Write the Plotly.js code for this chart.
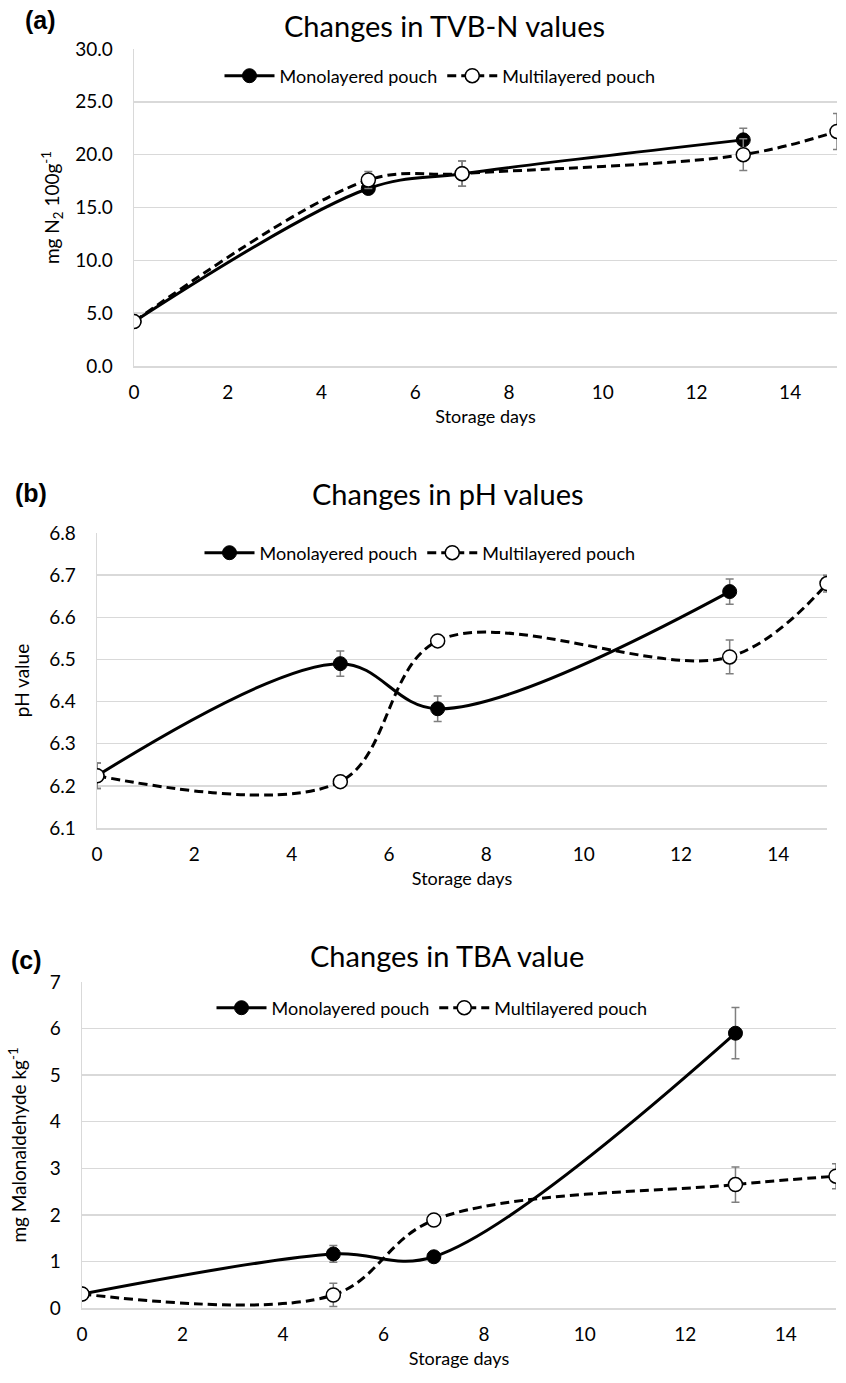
<!DOCTYPE html>
<html>
<head>
<meta charset="utf-8">
<script src="https://cdn.plot.ly/plotly-3.0.1.min.js"></script>
<style>html,body{margin:0;padding:0;background:#fff;}#chart{width:846px;height:1383px;}</style>
</head>
<body>
<div id="chart"></div>
<script>
// ---- data ----
const monoDays = [0, 5, 7, 13];
const multiDays = [0, 5, 7, 13, 15];
const xTickVals = [0, 2, 4, 6, 8, 10, 12, 14];

const tvbnMono = [4.2, 16.8, 18.2, 21.4];
const tvbnMonoErr = [0.2, 0.4, 1.2, 1.1];
const tvbnMulti = [4.2, 17.6, 18.2, 20.0, 22.2];
const tvbnMultiErr = [0.2, 0.8, 1.2, 1.5, 1.7];

const phMono = [6.224, 6.49, 6.383, 6.661];
const phMonoErr = [0.03, 0.03, 0.03, 0.03];
const phMulti = [6.224, 6.21, 6.544, 6.506, 6.68];
const phMultiErr = [0.03, 0.005, 0.005, 0.04, 0.02];

const tbaMono = [0.3, 1.16, 1.1, 5.9];
const tbaMonoErr = [0, 0.18, 0.05, 0.55];
const tbaMulti = [0.3, 0.28, 1.89, 2.65, 2.83];
const tbaMultiErr = [0, 0.25, 0.05, 0.38, 0.27];

const seriesNames = ['Monolayered pouch', 'Multilayered pouch'];
const panelTitles = ['Changes in TVB-N values', 'Changes in pH values', 'Changes in TBA value'];
const panelLabels = ['(a)', '(b)', '(c)'];
const yTitles = ['mg N<sub>2</sub> 100g<sup>-1</sup>', 'pH value', 'mg Malonaldehyde kg<sup>-1</sup>'];
const xTitle = 'Storage days';

// ---- layout helpers ----
const W = 846, H = 1383;
const FONT = 'Lato, "Open Sans", sans-serif';
const px = v => v / W;
const py = v => 1 - v / H;

function monoTrace(x, y, err, ax, leg) {
  return {
    x: x, y: y, type: 'scatter', mode: 'lines+markers', name: seriesNames[0],
    xaxis: ax.x, yaxis: ax.y, legend: leg,
    line: {color: '#000', width: 3, shape: 'spline', smoothing: 1},
    marker: {color: '#000', size: 14, line: {color: '#000', width: 1}},
    error_y: {type: 'data', array: err, visible: true, color: '#7f7f7f', thickness: 1.5, width: 4}
  };
}
function multiTrace(x, y, err, ax, leg) {
  return {
    x: x, y: y, type: 'scatter', mode: 'lines+markers', name: seriesNames[1],
    xaxis: ax.x, yaxis: ax.y, legend: leg,
    line: {color: '#000', width: 3, dash: '9px,5px', shape: 'spline', smoothing: 1},
    marker: {color: '#fff', size: 14, line: {color: '#000', width: 1.5}},
    error_y: {type: 'data', array: err, visible: true, color: '#7f7f7f', thickness: 1.5, width: 4}
  };
}

const data = [
  monoTrace(monoDays, tvbnMono, tvbnMonoErr, {x: 'x', y: 'y'}, 'legend'),
  multiTrace(multiDays, tvbnMulti, tvbnMultiErr, {x: 'x', y: 'y'}, 'legend'),
  monoTrace(monoDays, phMono, phMonoErr, {x: 'x2', y: 'y2'}, 'legend2'),
  multiTrace(multiDays, phMulti, phMultiErr, {x: 'x2', y: 'y2'}, 'legend2'),
  monoTrace(monoDays, tbaMono, tbaMonoErr, {x: 'x3', y: 'y3'}, 'legend3'),
  multiTrace(multiDays, tbaMulti, tbaMultiErr, {x: 'x3', y: 'y3'}, 'legend3')
];

function xAxis(domain, anchor) {
  return {
    domain: domain, anchor: anchor, range: [0, 15], tickvals: xTickVals,
    showgrid: false, zeroline: false, showline: true, linecolor: '#d9d9d9', linewidth: 1.5,
    ticks: '', ticklen: 0, ticklabelstandoff: 9, tickfont: {family: FONT, size: 19, color: '#000'},
    automargin: false,
    title: {text: xTitle, font: {family: FONT, size: 18, color: '#000'}, standoff: 8}
  };
}
function yAxis(domain, anchor, range, dtick, fmt, title, standoff) {
  return {
    domain: domain, anchor: anchor, range: range, dtick: dtick, tick0: range[0], tickformat: fmt,
    showgrid: true, gridcolor: '#d9d9d9', gridwidth: 1.5, zeroline: false,
    showline: true, linecolor: '#d9d9d9', linewidth: 1.5,
    ticks: '', ticklabelstandoff: 16, tickfont: {family: FONT, size: 19, color: '#000'},
    automargin: false,
    title: {text: title, font: {family: FONT, size: 19, color: '#000'}, standoff: standoff}
  };
}
function legendAt(xc, yc) {
  return {
    x: px(xc), y: py(yc), xanchor: 'center', yanchor: 'middle', orientation: 'h',
    bgcolor: 'rgba(0,0,0,0)', font: {family: FONT, size: 18, color: '#000'},
    itemwidth: 50, tracegroupgap: 0
  };
}

const layout = {
  width: W, height: H, margin: {l: 0, r: 0, t: 0, b: 0},
  paper_bgcolor: '#fff', plot_bgcolor: '#fff',
  xaxis: xAxis([px(134), px(837)], 'y'),
  yaxis: yAxis([py(366), py(49)], 'x', [0, 30], 5, '.1f', yTitles[0], 10),
  xaxis2: xAxis([px(97), px(827)], 'y2'),
  yaxis2: yAxis([py(828), py(533)], 'x2', [6.1, 6.8], 0.1, '.1f', yTitles[1], 14),
  xaxis3: xAxis([px(82), px(836)], 'y3'),
  yaxis3: yAxis([py(1308), py(982)], 'x3', [0, 7], 1, 'd', yTitles[2], 18),
  legend: legendAt(440, 76),
  legend2: legendAt(420, 553),
  legend3: legendAt(432, 1008),
  showlegend: true,
  annotations: [
    {text: panelTitles[0], x: px(444), y: py(25), xref: 'paper', yref: 'paper', showarrow: false, xanchor: 'center', yanchor: 'middle', font: {family: FONT, size: 29, color: '#000'}},
    {text: panelTitles[1], x: px(448), y: py(494), xref: 'paper', yref: 'paper', showarrow: false, xanchor: 'center', yanchor: 'middle', font: {family: FONT, size: 29, color: '#000'}},
    {text: panelTitles[2], x: px(447), y: py(955), xref: 'paper', yref: 'paper', showarrow: false, xanchor: 'center', yanchor: 'middle', font: {family: FONT, size: 29, color: '#000'}},
    {text: '<b>' + panelLabels[0] + '</b>', x: px(40), y: py(20), xref: 'paper', yref: 'paper', showarrow: false, xanchor: 'center', yanchor: 'middle', font: {family: 'Liberation Sans, Arial, sans-serif', size: 25, color: '#000'}},
    {text: '<b>' + panelLabels[1] + '</b>', x: px(31), y: py(493), xref: 'paper', yref: 'paper', showarrow: false, xanchor: 'center', yanchor: 'middle', font: {family: 'Liberation Sans, Arial, sans-serif', size: 25, color: '#000'}},
    {text: '<b>' + panelLabels[2] + '</b>', x: px(26), y: py(960), xref: 'paper', yref: 'paper', showarrow: false, xanchor: 'center', yanchor: 'middle', font: {family: 'Liberation Sans, Arial, sans-serif', size: 25, color: '#000'}}
  ]
};

Plotly.newPlot('chart', data, layout, {staticPlot: true, displayModeBar: false});
</script>
</body>
</html>
